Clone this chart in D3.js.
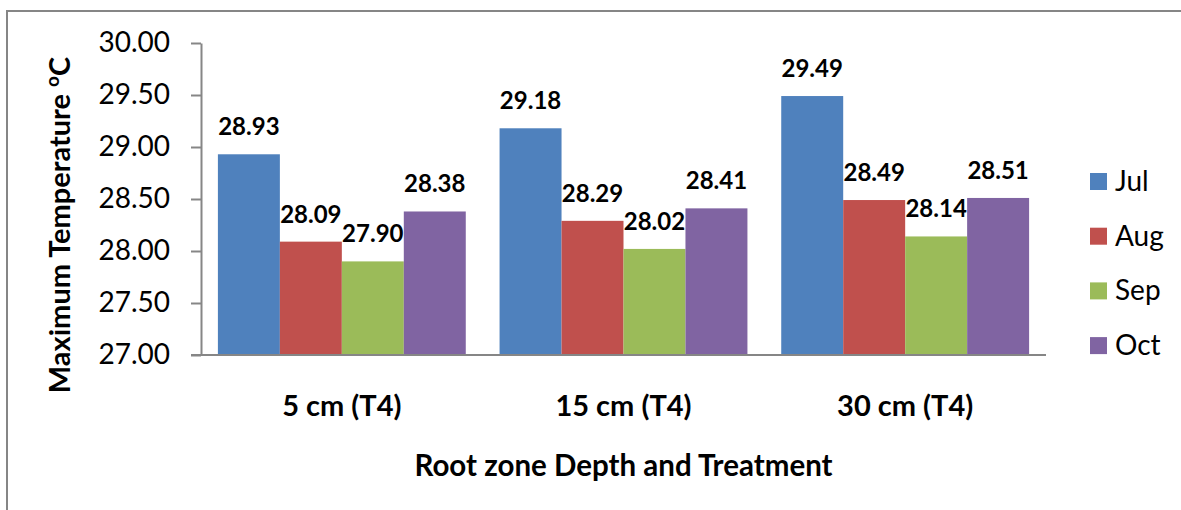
<!DOCTYPE html>
<html>
<head>
<meta charset="utf-8">
<script src="https://cdn.jsdelivr.net/npm/d3@7"></script>
<style>
  html, body { margin: 0; padding: 0; background: #fff; overflow: hidden; }
  svg { display: block; font-family: Lato, Calibri, "Open Sans", sans-serif; }
</style>
</head>
<body>
<div id="chart"></div>
<script>
// Maximum temperature by root zone depth, grouped by month
const CATEGORIES = ['5 cm (T4)', '15 cm (T4)', '30 cm (T4)'];
const MONTHS = ['Jul', 'Aug', 'Sep', 'Oct'];
const JUL = [28.93, 29.18, 29.49];
const AUG = [28.09, 28.29, 28.49];
const SEP = [27.90, 28.02, 28.14];
const OCT = [28.38, 28.41, 28.51];
const Y_TICKS = [27.0, 27.5, 28.0, 28.5, 29.0, 29.5, 30.0];

const COLORS = { Jul: '#4F81BD', Aug: '#C0504D', Sep: '#9BBB59', Oct: '#8064A2' };
const AXIS_GRAY = '#868686';

const series = { Jul: JUL, Aug: AUG, Sep: SEP, Oct: OCT };
const rows = CATEGORIES.flatMap((cat, i) =>
  MONTHS.map(m => ({ cat, month: m, value: series[m][i] }))
);

const width = 1181;
const height = 510;
const plot = { left: 201, right: 1046, top: 43, bottom: 355 };

const svg = d3.select('#chart')
  .append('svg')
  .attr('width', width)
  .attr('height', height);

// chart frame (only top and left edges are inside the picture)
svg.append('path')
  .attr('d', `M7,${height} V11 H${width}`)
  .attr('fill', 'none')
  .attr('stroke', AXIS_GRAY)
  .attr('stroke-width', 2);

const x0 = d3.scaleBand().domain(CATEGORIES).range([plot.left, plot.right])
  .paddingInner(0.12).paddingOuter(0.06);
const x1 = d3.scaleBand().domain(MONTHS).range([0, x0.bandwidth()]);
const y = d3.scaleLinear().domain([27, 30]).range([plot.bottom, plot.top]);

// y axis
const yAxis = svg.append('g')
  .attr('transform', `translate(${plot.left},0)`)
  .call(d3.axisLeft(y).tickValues(Y_TICKS).tickFormat(d3.format('.2f'))
    .tickSize(10).tickSizeOuter(0).tickPadding(21));
yAxis.select('.domain').attr('stroke', AXIS_GRAY).attr('stroke-width', 2);
yAxis.selectAll('.tick line').attr('stroke', AXIS_GRAY).attr('stroke-width', 2);
yAxis.selectAll('.tick text')
  .attr('font-family', 'Lato, Calibri, sans-serif')
  .attr('font-size', 28)
  .attr('fill', '#000');

// bars
svg.append('g').selectAll('rect')
  .data(rows)
  .enter()
  .append('rect')
  .attr('x', d => x0(d.cat) + x1(d.month))
  .attr('width', x1.bandwidth())
  .attr('y', d => y(d.value))
  .attr('height', d => y(27) - y(d.value))
  .attr('fill', d => COLORS[d.month]);

// x axis line
svg.append('line')
  .attr('x1', plot.left - 10).attr('x2', plot.right)
  .attr('y1', y(27)).attr('y2', y(27))
  .attr('stroke', AXIS_GRAY)
  .attr('stroke-width', 2);

// value labels
svg.append('g').selectAll('text')
  .data(rows)
  .enter()
  .append('text')
  .attr('x', d => x0(d.cat) + x1(d.month) + x1.bandwidth() / 2)
  .attr('y', d => y(d.value) - 19)
  .attr('text-anchor', 'middle')
  .attr('font-size', 24)
  .attr('font-weight', 'bold')
  .text(d => d.value.toFixed(2));

// category labels
svg.append('g').selectAll('text')
  .data(CATEGORIES)
  .enter()
  .append('text')
  .attr('x', d => x0(d) + x0.bandwidth() / 2)
  .attr('y', 416)
  .attr('text-anchor', 'middle')
  .attr('font-size', 29)
  .attr('font-weight', 'bold')
  .text(d => d);

// axis titles
svg.append('text')
  .attr('x', (plot.left + plot.right) / 2)
  .attr('y', 476)
  .attr('text-anchor', 'middle')
  .attr('font-size', 29.5)
  .attr('font-weight', 'bold')
  .text('Root zone Depth and Treatment');

const yTitle = svg.append('text')
  .attr('transform', 'translate(70,225) rotate(-90)')
  .attr('text-anchor', 'middle')
  .attr('font-size', 29)
  .attr('font-weight', 'bold');
yTitle.append('tspan').text('Maximum Temperature ');
yTitle.append('tspan').attr('baseline-shift', 'super').attr('font-size', 19).text('o');
yTitle.append('tspan').text('C');

// legend
const legend = svg.append('g').attr('transform', 'translate(1090,173)');
MONTHS.forEach((m, i) => {
  const row = legend.append('g').attr('transform', `translate(0,${i * 54.7})`);
  row.append('rect').attr('width', 17).attr('height', 17).attr('fill', COLORS[m]);
  row.append('text')
    .attr('x', 25)
    .attr('y', 18)
    .attr('font-size', 28)
    .text(m);
});
</script>
</body>
</html>
